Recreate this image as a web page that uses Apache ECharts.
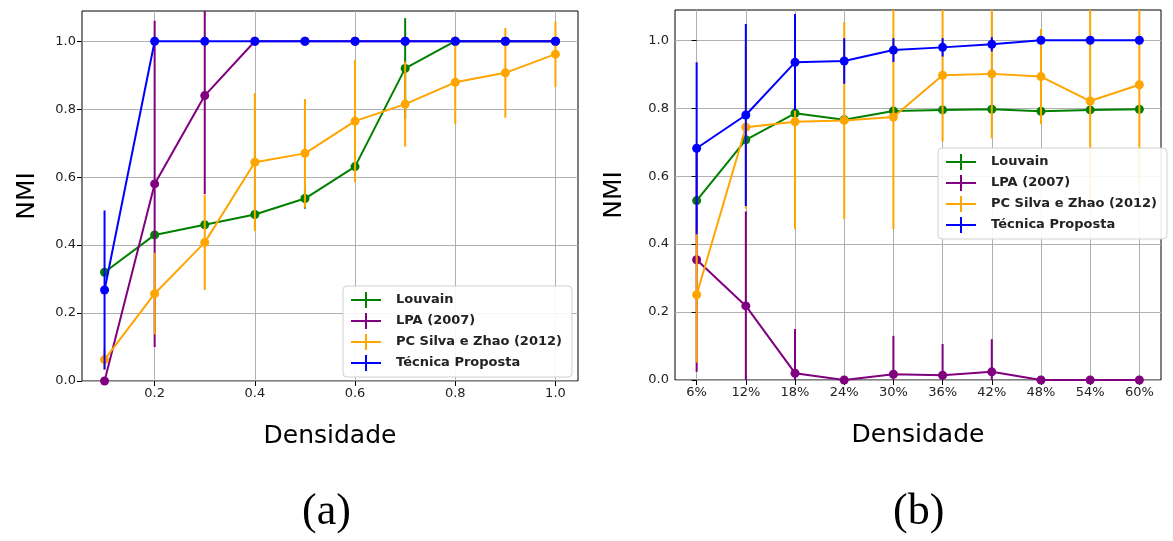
<!DOCTYPE html>
<html>
<head>
    <meta http-equiv="Content-Type" content="text/html; charset=utf-8" />
    <style type="text/css">
        body, html {width: 100%;height: 100%;margin:0;background:#fff;}
        #chart{width:1173px;height:541px;}
    </style>
    <script src="https://cdn.jsdelivr.net/npm/echarts@6/dist/echarts.min.js"></script>
    <title>NMI x Densidade</title>
</head>
<body>
<div id="chart"></div>
<script type="text/javascript">
    // (a) densidade 0.1 .. 1.0
    var xA = [0.1, 0.2, 0.3, 0.4, 0.5, 0.6, 0.7, 0.8, 0.9, 1.0];
    var ticksA = [0.2, 0.4, 0.6, 0.8, 1.0];
    var louvainA    = [0.32, 0.43, 0.46, 0.49, 0.537, 0.631, 0.92, 1.0, 1.0, 1.0];
    var louvainErrA = [0.0, 0.0, 0.0, 0.0, 0.03, 0.0, 0.148, 0.0, 0.0, 0.0];
    var lpaA        = [0.0, 0.58, 0.84, 1.0, 1.0, 1.0, 1.0, 1.0, 1.0, 1.0];
    var lpaErrA     = [0.0, 0.48, 0.29, 0.0, 0.0, 0.0, 0.0, 0.0, 0.0, 0.0];
    var pcA         = [0.063, 0.257, 0.408, 0.644, 0.67, 0.765, 0.815, 0.879, 0.907, 0.962];
    var pcErrA      = [0.03, 0.12, 0.14, 0.203, 0.16, 0.18, 0.125, 0.122, 0.132, 0.096];
    var propA       = [0.268, 1.0, 1.0, 1.0, 1.0, 1.0, 1.0, 1.0, 1.0, 1.0];
    var propErrA    = [0.234, 0.0, 0.0, 0.0, 0.0, 0.0, 0.0, 0.0, 0.0, 0.0];

    // (b) densidade 6% .. 60%
    var catsB = ['6%', '12%', '18%', '24%', '30%', '36%', '42%', '48%', '54%', '60%'];
    var louvainB    = [0.528, 0.707, 0.785, 0.766, 0.792, 0.795, 0.797, 0.791, 0.795, 0.797];
    var louvainErrB = [0.01, 0.01, 0.01, 0.01, 0.01, 0.01, 0.01, 0.01, 0.01, 0.01];
    var lpaB        = [0.354, 0.218, 0.02, 0.0, 0.017, 0.014, 0.024, 0.0, 0.0, 0.0];
    var lpaErrB     = [0.33, 0.278, 0.13, 0.0, 0.113, 0.092, 0.096, 0.0, 0.0, 0.0];
    var pcB         = [0.251, 0.744, 0.76, 0.764, 0.774, 0.897, 0.901, 0.893, 0.821, 0.869];
    var pcErrB      = [0.2, 0.24, 0.316, 0.29, 0.33, 0.195, 0.19, 0.14, 0.3, 0.3];
    var propB       = [0.682, 0.78, 0.935, 0.939, 0.971, 0.979, 0.988, 1.0, 1.0, 1.0];
    var propErrB    = [0.253, 0.268, 0.142, 0.067, 0.035, 0.027, 0.021, 0.0, 0.0, 0.0];

    var ticksY = [0, 0.2, 0.4, 0.6, 0.8, 1.0];
    var names = ['Louvain', 'LPA (2007)', 'PC Silva e Zhao (2012)', 'Técnica Proposta'];
    var colors = ['#008000', '#800080', '#FFA500', '#0000FF'];
    var font = 'DejaVu Sans';

    var chart = echarts.init(document.getElementById('chart'));

    function errData(xs, vals, errs) {
        return vals.map(function (v, i) { return [xs[i], v - errs[i], v + errs[i]]; });
    }
    function lineData(xs, vals) {
        return vals.map(function (v, i) { return [xs[i], v]; });
    }
    function errSeries(name, color, idx, data) {
        return {
            name: name, type: 'custom', xAxisIndex: idx, yAxisIndex: idx, clip: true,
            data: data, z: 2,
            renderItem: function (params, api) {
                var p1 = api.coord([api.value(0), api.value(1)]);
                var p2 = api.coord([api.value(0), api.value(2)]);
                return {
                    type: 'line',
                    shape: {x1: p1[0], y1: p1[1], x2: p2[0], y2: p2[1]},
                    style: {stroke: color, lineWidth: 2}
                };
            }
        };
    }
    function lineSeries(name, color, idx, data) {
        return {
            name: name, type: 'line', xAxisIndex: idx, yAxisIndex: idx, data: data,
            symbol: 'circle', symbolSize: 9, z: 3,
            lineStyle: {color: color, width: 2},
            itemStyle: {color: color},
            animation: false
        };
    }

    var idxB = xA.map(function (v, i) { return i; });
    var groups = [
        [0, xA, [louvainA, lpaA, pcA, propA], [louvainErrA, lpaErrA, pcErrA, propErrA]],
        [1, idxB, [louvainB, lpaB, pcB, propB], [louvainErrB, lpaErrB, pcErrB, propErrB]]
    ];
    var series = [];
    groups.forEach(function (g) {
        for (var k = 0; k < 4; k++) {
            var s1 = errSeries(names[k], colors[k], g[0], errData(g[1], g[2][k], g[3][k]));
            var s2 = lineSeries(names[k], colors[k], g[0], lineData(g[1], g[2][k]));
            s1.z = 2 + k * 2; s2.z = 3 + k * 2;
            series.push(s1, s2);
        }
    });

    var crossIcon = 'path://M0,7 L30,7 L30,9 L0,9 Z M14,0 L16,0 L16,16 L14,16 Z';
    function legend(left, top) {
        return {
            orient: 'vertical', left: left, top: top, data: names, z: 30,
            icon: crossIcon, itemWidth: 30, itemHeight: 16, itemGap: 5,
            padding: [6, 10, 6, 8],
            backgroundColor: 'rgba(255,255,255,0.9)',
            borderColor: '#d0d0d0', borderWidth: 1, borderRadius: 4,
            textStyle: {fontFamily: font, fontWeight: 'bold', fontSize: 13, color: '#222', padding: [0, 0, 0, 10]}
        };
    }

    var gridLine = {show: true, lineStyle: {color: '#b0b0b0', width: 1}};
    var labelStyle = {fontFamily: font, fontSize: 13, color: '#222'};
    var nameStyle = {fontFamily: font, fontSize: 25, color: '#000'};

    var option = {
        backgroundColor: '#fff',
        animation: false,
        color: colors,
        grid: [
            {left: 82, top: 11, width: 496, height: 370, show: true, borderColor: '#000', borderWidth: 1, backgroundColor: 'transparent'},
            {left: 675, top: 10, width: 486, height: 370, show: true, borderColor: '#000', borderWidth: 1, backgroundColor: 'transparent'}
        ],
        legend: [legend(343, 286), legend(938, 148)],
        xAxis: [
            {
                type: 'value', gridIndex: 0, min: 0.055, max: 1.045,
                name: 'Densidade', nameLocation: 'middle', nameGap: 43, nameTextStyle: nameStyle,
                axisLine: {show: false},
                axisTick: {show: true, length: 5, customValues: ticksA, lineStyle: {color: '#000'}},
                axisLabel: Object.assign({customValues: ticksA, margin: 6, formatter: function (v) { return v.toFixed(1); }}, labelStyle),
                splitLine: gridLine
            },
            {
                type: 'value', gridIndex: 1, min: -0.44, max: 9.44,
                name: 'Densidade', nameLocation: 'middle', nameGap: 43, nameTextStyle: nameStyle,
                axisLine: {show: false},
                axisTick: {show: true, length: 5, customValues: idxB, lineStyle: {color: '#000'}},
                axisLabel: Object.assign({customValues: idxB, margin: 6, formatter: function (v) { return catsB[Math.round(v)]; }}, labelStyle),
                splitLine: gridLine
            }
        ],
        yAxis: [
            {
                type: 'value', gridIndex: 0, min: 0, max: 1.089,
                name: 'NMI', nameLocation: 'middle', nameGap: 42, nameTextStyle: nameStyle,
                axisLine: {show: false},
                axisTick: {show: true, length: 5, customValues: ticksY, lineStyle: {color: '#000'}},
                axisLabel: Object.assign({customValues: ticksY, margin: 6, formatter: function (v) { return v.toFixed(1); }}, labelStyle),
                splitLine: gridLine
            },
            {
                type: 'value', gridIndex: 1, min: 0, max: 1.089,
                name: 'NMI', nameLocation: 'middle', nameGap: 48, nameTextStyle: nameStyle,
                axisLine: {show: false},
                axisTick: {show: true, length: 5, customValues: ticksY, lineStyle: {color: '#000'}},
                axisLabel: Object.assign({customValues: ticksY, margin: 6, formatter: function (v) { return v.toFixed(1); }}, labelStyle),
                splitLine: gridLine
            }
        ],
        graphic: [
            {type: 'text', left: 302, top: 490, style: {text: '(a)', font: '44px "Liberation Serif"', fill: '#000'}},
            {type: 'text', left: 893, top: 490, style: {text: '(b)', font: '44px "Liberation Serif"', fill: '#000'}}
        ],
        series: series
    };

    chart.setOption(option);
</script>
</body>
</html>
